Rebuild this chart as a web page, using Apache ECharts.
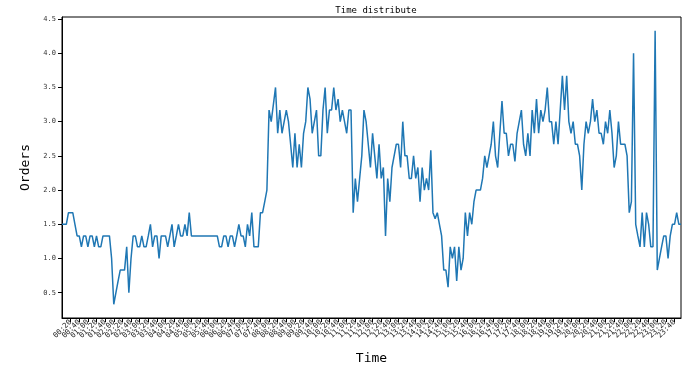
<!DOCTYPE html>
<html>
<head>
<meta charset="utf-8">
<title>Time distribute</title>
<script src="https://cdn.jsdelivr.net/npm/echarts@6/dist/echarts.min.js"></script>
<style>
    html, body {margin: 0; padding: 0; background: #fff;}
    #TimeChart {width: 695px; height: 373px;}
</style>
</head>
<body>
<div id="TimeChart"></div>
<script>
// 每5分钟一个点 00:00 ~ 23:55
var times = [];
for (var h = 0; h < 24; h++) {
    for (var m = 0; m < 60; m += 5) {
        times.push((h < 10 ? '0' + h : '' + h) + ':' + (m < 10 ? '0' + m : '' + m));
    }
}

// 平均订单数
var orders0 = [1.5, 1.5, 1.5, 1.67, 1.67, 1.67, 1.5, 1.33, 1.33, 1.17, 1.33, 1.33, 1.17, 1.33, 1.33, 1.17,
    1.33, 1.17, 1.17, 1.33, 1.33, 1.33, 1.33, 1.0, 0.33, 0.5, 0.67, 0.83, 0.83, 0.83, 1.17, 0.5,
    1.0, 1.33, 1.33, 1.17, 1.17, 1.33, 1.17, 1.17, 1.33, 1.5, 1.17, 1.33, 1.33, 1.0, 1.33, 1.33,
    1.33, 1.17, 1.33, 1.5, 1.17, 1.33, 1.5, 1.33, 1.33, 1.5, 1.33, 1.67, 1.33, 1.33, 1.33, 1.33,
    1.33, 1.33, 1.33, 1.33, 1.33, 1.33, 1.33, 1.33, 1.33, 1.17, 1.17, 1.33, 1.33, 1.17, 1.33, 1.33,
    1.17, 1.33, 1.5, 1.33, 1.33, 1.17, 1.5, 1.33, 1.67, 1.17, 1.17, 1.17, 1.67, 1.67, 1.83, 2.0];
var orders1 = [3.17, 3.0, 3.25, 3.5, 2.83, 3.17, 2.83, 3.0, 3.17, 3.0, 2.67, 2.33, 2.83, 2.33, 2.67, 2.33,
    2.83, 3.0, 3.5, 3.33, 2.83, 3.0, 3.17, 2.5, 2.5, 3.17, 3.5, 2.83, 3.17, 3.17, 3.5, 3.17,
    3.33, 3.0, 3.17, 3.0, 2.83, 3.17, 3.17, 1.67, 2.17, 1.83, 2.17, 2.5, 3.17, 3.0, 2.67, 2.33,
    2.83, 2.5, 2.17, 2.67, 2.17, 2.33, 1.33, 2.17, 1.83, 2.33, 2.5, 2.67, 2.67, 2.33, 3.0, 2.5,
    2.5, 2.17, 2.17, 2.5, 2.17, 2.33, 1.83, 2.33, 2.0, 2.17, 2.0, 2.58, 1.67, 1.58, 1.67, 1.5,
    1.33, 0.83, 0.83, 0.58, 1.17, 1.0, 1.17, 0.67, 1.17, 0.83, 1.0, 1.67, 1.33, 1.67, 1.5, 1.83];
var orders2 = [2.0, 2.0, 2.0, 2.17, 2.5, 2.33, 2.5, 2.67, 3.0, 2.5, 2.33, 2.83, 3.3, 2.83, 2.83, 2.5,
    2.67, 2.67, 2.42, 2.83, 3.0, 3.17, 2.67, 2.5, 2.83, 2.5, 3.17, 2.83, 3.33, 2.83, 3.17, 3.0,
    3.17, 3.5, 3.0, 3.0, 2.67, 3.0, 2.67, 3.17, 3.67, 3.17, 3.67, 3.0, 2.83, 3.0, 2.67, 2.67,
    2.5, 2.0, 2.67, 3.0, 2.83, 3.0, 3.33, 3.0, 3.17, 2.83, 2.83, 2.67, 3.0, 2.83, 3.17, 2.83,
    2.33, 2.5, 3.0, 2.67, 2.67, 2.67, 2.5, 1.67, 1.83, 4.0, 1.5, 1.33, 1.17, 1.67, 1.17, 1.67,
    1.5, 1.17, 1.17, 4.33, 0.83, 1.0, 1.17, 1.33, 1.33, 1.0, 1.33, 1.5, 1.5, 1.67, 1.5, 1.5];
var orders = orders0.concat(orders1, orders2);

var yTicks = [0.5, 1.0, 1.5, 2.0, 2.5, 3.0, 3.5, 4.0, 4.5];

// x轴每4个点一个刻度, 加上最后一个
function showTick(index) {
    return index % 4 === 0 || index === times.length - 1;
}

var fontMono = 'DejaVu Sans Mono';
var timeChart = echarts.init(document.getElementById('TimeChart'));

timeChart.setOption({
    animation: false,
    title: {
        text: 'Time distribute',
        left: 371,
        top: 1,
        textAlign: 'center',
        textStyle: {
            fontFamily: fontMono,
            fontSize: 9,
            fontWeight: 'normal',
            color: '#000'
        }
    },
    grid: {
        left: 62,
        right: 14,
        top: 17,
        bottom: 55,
        show: true,
        borderColor: '#000',
        borderWidth: 1
    },
    xAxis: {
        type: 'category',
        boundaryGap: false,
        data: times,
        name: 'Time',
        nameLocation: 'middle',
        nameGap: 34,
        nameTextStyle: {
            fontFamily: fontMono,
            fontSize: 13,
            color: '#000'
        },
        axisLine: {lineStyle: {color: '#000', width: 1}},
        axisTick: {
            interval: showTick,
            length: 4,
            lineStyle: {color: '#000'}
        },
        axisLabel: {
            interval: showTick,
            hideOverlap: false,
            rotate: 45,
            margin: 3,
            fontFamily: fontMono,
            fontSize: 7.5,
            color: '#222'
        },
        splitLine: {show: false}
    },
    yAxis: {
        type: 'value',
        min: 0.13,
        max: 4.53,
        name: 'Orders',
        nameLocation: 'middle',
        nameGap: 27,
        nameTextStyle: {
            fontFamily: fontMono,
            fontSize: 13,
            color: '#000'
        },
        axisLine: {show: true, lineStyle: {color: '#000', width: 1}},
        axisTick: {
            show: true,
            length: 4,
            customValues: yTicks,
            lineStyle: {color: '#000'}
        },
        axisLabel: {
            customValues: yTicks,
            margin: 6,
            fontFamily: fontMono,
            fontSize: 7,
            color: '#333',
            formatter: function (v) {
                return v.toFixed(1);
            }
        },
        splitLine: {show: false}
    },
    series: [
        {
            name: 'Orders',
            type: 'line',
            data: orders,
            showSymbol: false,
            symbol: 'none',
            lineStyle: {color: '#1f77b4', width: 1.5}
        }
    ]
});

window.onresize = function () {
    timeChart.resize();
}
</script>
</body>
</html>
